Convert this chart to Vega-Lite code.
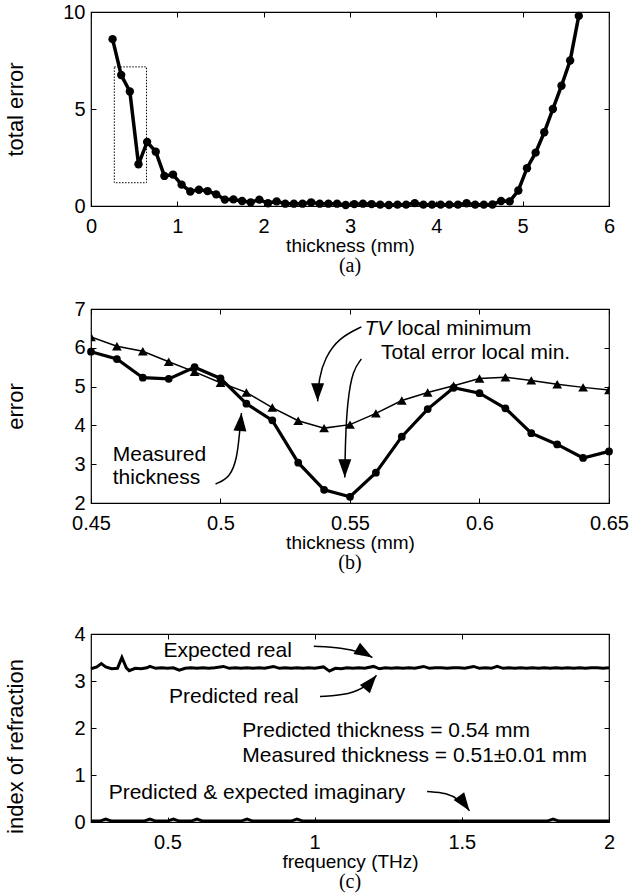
{
  "$schema": "https://vega.github.io/schema/vega-lite/v6.json",
  "padding": {"left": 3, "top": 1, "right": 5, "bottom": 0},
  "spacing": 21,
  "config": {
    "font": "Liberation Sans",
    "view": {"stroke": "black", "strokeWidth": 1.2},
    "axis": {
      "domain": false, "grid": false, "ticks": true, "tickSize": -5, "tickColor": "black", "tickWidth": 1,
      "labelFont": "Liberation Sans", "labelFontSize": 20, "labelColor": "black",
      "labelFlush": false, "labelOverlap": false,
      "titleFont": "Liberation Sans", "titleFontSize": 22, "titleFontWeight": "normal", "titleColor": "black"
    },
    "axisX": {"labelPadding": 15, "titlePadding": 0, "titleFontSize": 19},
    "axisY": {"labelPadding": 11},
    "text": {"font": "Liberation Sans", "fontSize": 21, "align": "left", "baseline": "middle", "color": "black"}
  },
  "datasets": {
    "total": [
      {"t": 0.25, "e": 8.6}, {"t": 0.35, "e": 6.75}, {"t": 0.45, "e": 5.9}, {"t": 0.55, "e": 2.15},
      {"t": 0.65, "e": 3.3}, {"t": 0.75, "e": 2.8}, {"t": 0.85, "e": 1.55}, {"t": 0.95, "e": 1.62},
      {"t": 1.05, "e": 1.1}, {"t": 1.15, "e": 0.75}, {"t": 1.25, "e": 0.84}, {"t": 1.35, "e": 0.77},
      {"t": 1.45, "e": 0.6}, {"t": 1.55, "e": 0.33}, {"t": 1.65, "e": 0.34}, {"t": 1.75, "e": 0.26},
      {"t": 1.85, "e": 0.19}, {"t": 1.95, "e": 0.33}, {"t": 2.05, "e": 0.14}, {"t": 2.15, "e": 0.24},
      {"t": 2.25, "e": 0.12}, {"t": 2.35, "e": 0.12}, {"t": 2.45, "e": 0.12}, {"t": 2.55, "e": 0.19},
      {"t": 2.65, "e": 0.12}, {"t": 2.75, "e": 0.12}, {"t": 2.85, "e": 0.12}, {"t": 2.95, "e": 0.05},
      {"t": 3.05, "e": 0.1}, {"t": 3.15, "e": 0.12}, {"t": 3.25, "e": 0.1}, {"t": 3.35, "e": 0.07},
      {"t": 3.45, "e": 0.05}, {"t": 3.55, "e": 0.07}, {"t": 3.65, "e": 0.07}, {"t": 3.75, "e": 0.15},
      {"t": 3.85, "e": 0.07}, {"t": 3.95, "e": 0.07}, {"t": 4.05, "e": 0.07}, {"t": 4.15, "e": 0.07},
      {"t": 4.25, "e": 0.07}, {"t": 4.35, "e": 0.14}, {"t": 4.45, "e": 0.07}, {"t": 4.55, "e": 0.07},
      {"t": 4.65, "e": 0.08}, {"t": 4.75, "e": 0.26}, {"t": 4.85, "e": 0.24}, {"t": 4.95, "e": 0.8},
      {"t": 5.05, "e": 1.95}, {"t": 5.15, "e": 2.75}, {"t": 5.25, "e": 3.8}, {"t": 5.35, "e": 5.0},
      {"t": 5.45, "e": 6.2}, {"t": 5.55, "e": 7.5}, {"t": 5.65, "e": 9.8}
    ],
    "box": [{"x1": 0.27, "x2": 0.643, "y1": 1.2, "y2": 7.17}],
    "tv": [
      {"t": 0.45, "e": 6.28}, {"t": 0.46, "e": 6.04}, {"t": 0.47, "e": 5.91}, {"t": 0.48, "e": 5.64},
      {"t": 0.49, "e": 5.38}, {"t": 0.5, "e": 5.1}, {"t": 0.51, "e": 4.85}, {"t": 0.52, "e": 4.46},
      {"t": 0.53, "e": 4.12}, {"t": 0.54, "e": 3.93}, {"t": 0.55, "e": 4.02}, {"t": 0.56, "e": 4.31},
      {"t": 0.57, "e": 4.64}, {"t": 0.58, "e": 4.85}, {"t": 0.59, "e": 5.02}, {"t": 0.6, "e": 5.21},
      {"t": 0.61, "e": 5.24}, {"t": 0.62, "e": 5.16}, {"t": 0.63, "e": 5.06}, {"t": 0.64, "e": 4.98},
      {"t": 0.65, "e": 4.91}
    ],
    "te": [
      {"t": 0.45, "e": 5.9}, {"t": 0.46, "e": 5.71}, {"t": 0.47, "e": 5.23}, {"t": 0.48, "e": 5.2},
      {"t": 0.49, "e": 5.5}, {"t": 0.5, "e": 5.21}, {"t": 0.51, "e": 4.56}, {"t": 0.52, "e": 4.13},
      {"t": 0.53, "e": 3.04}, {"t": 0.54, "e": 2.34}, {"t": 0.55, "e": 2.16}, {"t": 0.56, "e": 2.78},
      {"t": 0.57, "e": 3.71}, {"t": 0.58, "e": 4.42}, {"t": 0.59, "e": 4.97}, {"t": 0.6, "e": 4.83},
      {"t": 0.61, "e": 4.44}, {"t": 0.62, "e": 3.8}, {"t": 0.63, "e": 3.51}, {"t": 0.64, "e": 3.16},
      {"t": 0.65, "e": 3.33}
    ],
    "arrowsB": [
      {"a": "tv", "o": 0, "x": 0.5544, "y": 6.54}, {"a": "tv", "o": 1, "x": 0.5454, "y": 6.24},
      {"a": "tv", "o": 2, "x": 0.5403, "y": 5.73}, {"a": "tv", "o": 3, "x": 0.538, "y": 5.22},
      {"a": "tv", "o": 4, "x": 0.5375, "y": 4.62},
      {"a": "te", "o": 0, "x": 0.5544, "y": 5.71}, {"a": "te", "o": 1, "x": 0.5511, "y": 5.43},
      {"a": "te", "o": 2, "x": 0.549, "y": 4.62}, {"a": "te", "o": 3, "x": 0.5482, "y": 3.6},
      {"a": "te", "o": 4, "x": 0.548, "y": 2.66},
      {"a": "m", "o": 0, "x": 0.4981, "y": 2.49}, {"a": "m", "o": 1, "x": 0.5038, "y": 2.66},
      {"a": "m", "o": 2, "x": 0.5064, "y": 3.17}, {"a": "m", "o": 3, "x": 0.5073, "y": 3.77},
      {"a": "m", "o": 4, "x": 0.5081, "y": 4.32}
    ],
    "headsBdown": [{"x": 0.5375, "y": 4.62}, {"x": 0.548, "y": 2.66}],
    "headsBup": [{"x": 0.5081, "y": 4.32}],
    "textB": [
      {"x": 0.5682, "y": 6.48, "label": "local minimum"},
      {"x": 0.562, "y": 5.87, "label": "Total error local min."},
      {"x": 0.4584, "y": 3.25, "label": "Measured"},
      {"x": 0.4584, "y": 2.64, "label": "thickness"}
    ],
    "textBit": [{"x": 0.5556, "y": 6.48, "label": "TV"}],
    "real": [
      {"f": 0.24, "n": 3.26}, {"f": 0.26, "n": 3.3}, {"f": 0.275, "n": 3.37}, {"f": 0.29, "n": 3.3},
      {"f": 0.31, "n": 3.26}, {"f": 0.33, "n": 3.27}, {"f": 0.345, "n": 3.5}, {"f": 0.36, "n": 3.28},
      {"f": 0.37, "n": 3.22}, {"f": 0.39, "n": 3.27}, {"f": 0.41, "n": 3.26}, {"f": 0.43, "n": 3.28},
      {"f": 0.44, "n": 3.31}, {"f": 0.46, "n": 3.27}, {"f": 0.48, "n": 3.28}, {"f": 0.5, "n": 3.27},
      {"f": 0.52, "n": 3.28}, {"f": 0.54, "n": 3.23}, {"f": 0.56, "n": 3.27}, {"f": 0.58, "n": 3.28},
      {"f": 0.6, "n": 3.27}, {"f": 0.62, "n": 3.28}, {"f": 0.64, "n": 3.27}, {"f": 0.66, "n": 3.28},
      {"f": 0.69, "n": 3.31}, {"f": 0.71, "n": 3.27}, {"f": 0.73, "n": 3.28}, {"f": 0.75, "n": 3.27},
      {"f": 0.77, "n": 3.28}, {"f": 0.79, "n": 3.27}, {"f": 0.81, "n": 3.28}, {"f": 0.83, "n": 3.27},
      {"f": 0.86, "n": 3.31}, {"f": 0.88, "n": 3.27}, {"f": 0.9, "n": 3.28}, {"f": 0.92, "n": 3.27},
      {"f": 0.94, "n": 3.28}, {"f": 0.96, "n": 3.27}, {"f": 0.98, "n": 3.28}, {"f": 1.0, "n": 3.27},
      {"f": 1.03, "n": 3.3}, {"f": 1.05, "n": 3.21}, {"f": 1.07, "n": 3.27}, {"f": 1.09, "n": 3.26},
      {"f": 1.11, "n": 3.28}, {"f": 1.13, "n": 3.27}, {"f": 1.15, "n": 3.28}, {"f": 1.17, "n": 3.27},
      {"f": 1.2, "n": 3.31}, {"f": 1.22, "n": 3.26}, {"f": 1.24, "n": 3.28}, {"f": 1.26, "n": 3.27},
      {"f": 1.28, "n": 3.28}, {"f": 1.3, "n": 3.27}, {"f": 1.32, "n": 3.28}, {"f": 1.34, "n": 3.27},
      {"f": 1.37, "n": 3.31}, {"f": 1.39, "n": 3.27}, {"f": 1.41, "n": 3.28}, {"f": 1.43, "n": 3.28},
      {"f": 1.45, "n": 3.27}, {"f": 1.47, "n": 3.28}, {"f": 1.49, "n": 3.28}, {"f": 1.51, "n": 3.27},
      {"f": 1.54, "n": 3.31}, {"f": 1.56, "n": 3.27}, {"f": 1.58, "n": 3.28}, {"f": 1.6, "n": 3.27},
      {"f": 1.62, "n": 3.31}, {"f": 1.64, "n": 3.27}, {"f": 1.66, "n": 3.28}, {"f": 1.68, "n": 3.27},
      {"f": 1.7, "n": 3.28}, {"f": 1.72, "n": 3.27}, {"f": 1.74, "n": 3.28}, {"f": 1.76, "n": 3.27},
      {"f": 1.78, "n": 3.28}, {"f": 1.8, "n": 3.27}, {"f": 1.82, "n": 3.28}, {"f": 1.84, "n": 3.27},
      {"f": 1.86, "n": 3.28}, {"f": 1.88, "n": 3.27}, {"f": 1.9, "n": 3.28}, {"f": 1.92, "n": 3.27},
      {"f": 1.94, "n": 3.28}, {"f": 1.96, "n": 3.28}, {"f": 1.98, "n": 3.27}, {"f": 2.0, "n": 3.28}
    ],
    "imag": [
      {"f": 0.24, "n": 0.02}, {"f": 0.27, "n": 0.02}, {"f": 0.29, "n": 0.06}, {"f": 0.31, "n": 0.02},
      {"f": 0.42, "n": 0.02}, {"f": 0.44, "n": 0.06}, {"f": 0.46, "n": 0.02}, {"f": 0.5, "n": 0.02},
      {"f": 0.52, "n": 0.06}, {"f": 0.54, "n": 0.02}, {"f": 0.58, "n": 0.02}, {"f": 0.6, "n": 0.06},
      {"f": 0.62, "n": 0.02}, {"f": 0.75, "n": 0.02}, {"f": 0.77, "n": 0.06}, {"f": 0.79, "n": 0.02},
      {"f": 0.92, "n": 0.02}, {"f": 0.94, "n": 0.06}, {"f": 0.96, "n": 0.02}, {"f": 1.79, "n": 0.02},
      {"f": 1.81, "n": 0.06}, {"f": 1.83, "n": 0.02}, {"f": 2.0, "n": 0.02}
    ],
    "arrowsC": [
      {"a": "e", "o": 0, "x": 0.997, "y": 3.74}, {"a": "e", "o": 1, "x": 1.093, "y": 3.71},
      {"a": "e", "o": 2, "x": 1.16, "y": 3.61}, {"a": "e", "o": 3, "x": 1.196, "y": 3.5},
      {"a": "p", "o": 0, "x": 1.018, "y": 2.67}, {"a": "p", "o": 1, "x": 1.12, "y": 2.71},
      {"a": "p", "o": 2, "x": 1.18, "y": 2.9}, {"a": "p", "o": 3, "x": 1.21, "y": 3.12},
      {"a": "i", "o": 0, "x": 1.382, "y": 0.65}, {"a": "i", "o": 1, "x": 1.45, "y": 0.62},
      {"a": "i", "o": 2, "x": 1.49, "y": 0.48}, {"a": "i", "o": 3, "x": 1.526, "y": 0.24}
    ],
    "headsCe": [{"x": 1.196, "y": 3.5}],
    "headsCp": [{"x": 1.21, "y": 3.12}],
    "headsCi": [{"x": 1.526, "y": 0.24}],
    "textC": [
      {"x": 0.486, "y": 3.64, "label": "Expected real"},
      {"x": 0.505, "y": 2.66, "label": "Predicted real"},
      {"x": 0.754, "y": 1.94, "label": "Predicted thickness  = 0.54 mm"},
      {"x": 0.754, "y": 1.4, "label": "Measured thickness = 0.51±0.01 mm"},
      {"x": 0.3, "y": 0.62, "label": "Predicted & expected imaginary"}
    ]
  },
  "vconcat": [
    {
      "width": 518, "height": 194,
      "title": {"text": "(a)", "orient": "bottom", "anchor": "middle", "font": "Liberation Serif", "fontSize": 20, "fontWeight": "normal", "color": "black", "offset": 1},
      "layer": [
        {
          "data": {"name": "total"},
          "mark": {"type": "line", "color": "black", "strokeWidth": 3.5, "point": {"filled": true, "size": 70, "color": "black"}},
          "encoding": {
            "x": {"field": "t", "type": "quantitative", "scale": {"domain": [0, 6], "nice": false},
                  "axis": {"title": "thickness (mm)", "values": [0, 1, 2, 3, 4, 5, 6]}},
            "y": {"field": "e", "type": "quantitative", "scale": {"domain": [0, 10], "nice": false},
                  "axis": {"title": "total error", "values": [0, 5, 10], "titleX": -64, "titleY": 97}}
          }
        },
        {
          "data": {"name": "box"},
          "mark": {"type": "rect", "fill": null, "stroke": "black", "strokeWidth": 1, "strokeDash": [1.5, 1.5]},
          "encoding": {
            "x": {"field": "x1", "type": "quantitative", "axis": null}, "x2": {"field": "x2"},
            "y": {"field": "y1", "type": "quantitative", "axis": null}, "y2": {"field": "y2"}
          }
        },
        {
          "data": {"name": "total"},
          "mark": {"type": "point", "opacity": 0},
          "encoding": {
            "x": {"field": "t", "type": "quantitative", "axis": {"orient": "top", "labels": false, "title": null, "values": [0, 1, 2, 3, 4, 5, 6]}},
            "y": {"field": "e", "type": "quantitative", "axis": {"orient": "right", "labels": false, "title": null, "values": [0, 5, 10]}}
          }
        }
      ],
      "resolve": {"axis": {"x": "independent", "y": "independent"}}
    },
    {
      "spacing": 49,
      "vconcat": [
        {
          "width": 518, "height": 194,
          "title": {"text": "(b)", "orient": "bottom", "anchor": "middle", "font": "Liberation Serif", "fontSize": 20, "fontWeight": "normal", "color": "black", "offset": 1},
          "layer": [
            {
              "data": {"name": "tv"},
              "mark": {"type": "line", "color": "black", "strokeWidth": 1.5, "clip": true, "point": {"shape": "triangle-up", "filled": true, "size": 95, "color": "black"}},
              "encoding": {
                "x": {"field": "t", "type": "quantitative", "scale": {"domain": [0.45, 0.65], "nice": false},
                      "axis": {"title": "thickness (mm)", "values": [0.45, 0.5, 0.55, 0.6, 0.65], "format": "~g"}},
                "y": {"field": "e", "type": "quantitative", "scale": {"domain": [2, 7], "nice": false},
                      "axis": {"title": "error", "values": [2, 3, 4, 5, 6, 7], "titleX": -64, "titleY": 97}}
              }
            },
            {
              "data": {"name": "te"},
              "mark": {"type": "line", "color": "black", "strokeWidth": 3.2, "point": {"filled": true, "size": 60, "color": "black"}},
              "encoding": {
                "x": {"field": "t", "type": "quantitative", "axis": null},
                "y": {"field": "e", "type": "quantitative", "axis": null}
              }
            },
            {
              "data": {"name": "arrowsB"},
              "mark": {"type": "line", "color": "black", "strokeWidth": 1.5, "interpolate": "basis"},
              "encoding": {
                "x": {"field": "x", "type": "quantitative", "axis": null},
                "y": {"field": "y", "type": "quantitative", "axis": null},
                "detail": {"field": "a"}, "order": {"field": "o"}
              }
            },
            {
              "data": {"name": "headsBdown"},
              "mark": {"type": "point", "shape": "M0,0L-0.36,-1L0.36,-1Z", "filled": true, "color": "black", "opacity": 1, "size": 1300, "angle": 0},
              "encoding": {"x": {"field": "x", "type": "quantitative", "axis": null}, "y": {"field": "y", "type": "quantitative", "axis": null}}
            },
            {
              "data": {"name": "headsBup"},
              "mark": {"type": "point", "shape": "M0,0L-0.36,-1L0.36,-1Z", "filled": true, "color": "black", "opacity": 1, "size": 1300, "angle": 185},
              "encoding": {"x": {"field": "x", "type": "quantitative", "axis": null}, "y": {"field": "y", "type": "quantitative", "axis": null}}
            },
            {
              "data": {"name": "textB"},
              "mark": {"type": "text"},
              "encoding": {"x": {"field": "x", "type": "quantitative", "axis": null}, "y": {"field": "y", "type": "quantitative", "axis": null}, "text": {"field": "label"}}
            },
            {
              "data": {"name": "textBit"},
              "mark": {"type": "text", "fontStyle": "italic"},
              "encoding": {"x": {"field": "x", "type": "quantitative", "axis": null}, "y": {"field": "y", "type": "quantitative", "axis": null}, "text": {"field": "label"}}
            },
            {
              "data": {"name": "te"},
              "mark": {"type": "point", "opacity": 0},
              "encoding": {
                "x": {"field": "t", "type": "quantitative", "axis": {"orient": "top", "labels": false, "title": null, "values": [0.45, 0.5, 0.55, 0.6, 0.65]}},
                "y": {"field": "e", "type": "quantitative", "axis": {"orient": "right", "labels": false, "title": null, "values": [2, 3, 4, 5, 6, 7]}}
              }
            }
          ],
          "resolve": {"axis": {"x": "independent", "y": "independent"}}
        },
        {
          "width": 518, "height": 188,
          "title": {"text": "(c)", "orient": "bottom", "anchor": "middle", "font": "Liberation Serif", "fontSize": 20, "fontWeight": "normal", "color": "black", "offset": 1},
          "layer": [
            {
              "data": {"name": "real"},
              "mark": {"type": "line", "color": "black", "strokeWidth": 3},
              "encoding": {
                "x": {"field": "f", "type": "quantitative", "scale": {"domain": [0.24, 2], "nice": false},
                      "axis": {"title": "frequency (THz)", "values": [0.5, 1, 1.5, 2], "format": "~g"}},
                "y": {"field": "n", "type": "quantitative", "scale": {"domain": [0, 4], "nice": false},
                      "axis": {"title": "index of refraction", "values": [0, 1, 2, 3, 4], "titleX": -64, "titleY": 112}}
              }
            },
            {
              "data": {"name": "imag"},
              "mark": {"type": "line", "color": "black", "strokeWidth": 3},
              "encoding": {"x": {"field": "f", "type": "quantitative", "axis": null}, "y": {"field": "n", "type": "quantitative", "axis": null}}
            },
            {
              "mark": {"type": "rule", "color": "black", "strokeWidth": 1, "strokeDash": [1, 1.5]},
              "encoding": {"y": {"datum": 3.4, "type": "quantitative", "axis": null}}
            },
            {
              "data": {"name": "arrowsC"},
              "mark": {"type": "line", "color": "black", "strokeWidth": 1.5, "interpolate": "basis"},
              "encoding": {
                "x": {"field": "x", "type": "quantitative", "axis": null},
                "y": {"field": "y", "type": "quantitative", "axis": null},
                "detail": {"field": "a"}, "order": {"field": "o"}
              }
            },
            {
              "data": {"name": "headsCe"},
              "mark": {"type": "point", "shape": "M0,0L-0.36,-1L0.36,-1Z", "filled": true, "color": "black", "opacity": 1, "size": 1300, "angle": -60},
              "encoding": {"x": {"field": "x", "type": "quantitative", "axis": null}, "y": {"field": "y", "type": "quantitative", "axis": null}}
            },
            {
              "data": {"name": "headsCp"},
              "mark": {"type": "point", "shape": "M0,0L-0.36,-1L0.36,-1Z", "filled": true, "color": "black", "opacity": 1, "size": 1300, "angle": 220},
              "encoding": {"x": {"field": "x", "type": "quantitative", "axis": null}, "y": {"field": "y", "type": "quantitative", "axis": null}}
            },
            {
              "data": {"name": "headsCi"},
              "mark": {"type": "point", "shape": "M0,0L-0.36,-1L0.36,-1Z", "filled": true, "color": "black", "opacity": 1, "size": 1300, "angle": -36},
              "encoding": {"x": {"field": "x", "type": "quantitative", "axis": null}, "y": {"field": "y", "type": "quantitative", "axis": null}}
            },
            {
              "data": {"name": "textC"},
              "mark": {"type": "text"},
              "encoding": {"x": {"field": "x", "type": "quantitative", "axis": null}, "y": {"field": "y", "type": "quantitative", "axis": null}, "text": {"field": "label"}}
            },
            {
              "data": {"name": "real"},
              "mark": {"type": "point", "opacity": 0},
              "encoding": {
                "x": {"field": "f", "type": "quantitative", "axis": {"orient": "top", "labels": false, "title": null, "values": [0.5, 1, 1.5, 2]}},
                "y": {"field": "n", "type": "quantitative", "axis": {"orient": "right", "labels": false, "title": null, "values": [0, 1, 2, 3, 4]}}
              }
            }
          ],
          "resolve": {"axis": {"x": "independent", "y": "independent"}}
        }
      ]
    }
  ]
}
